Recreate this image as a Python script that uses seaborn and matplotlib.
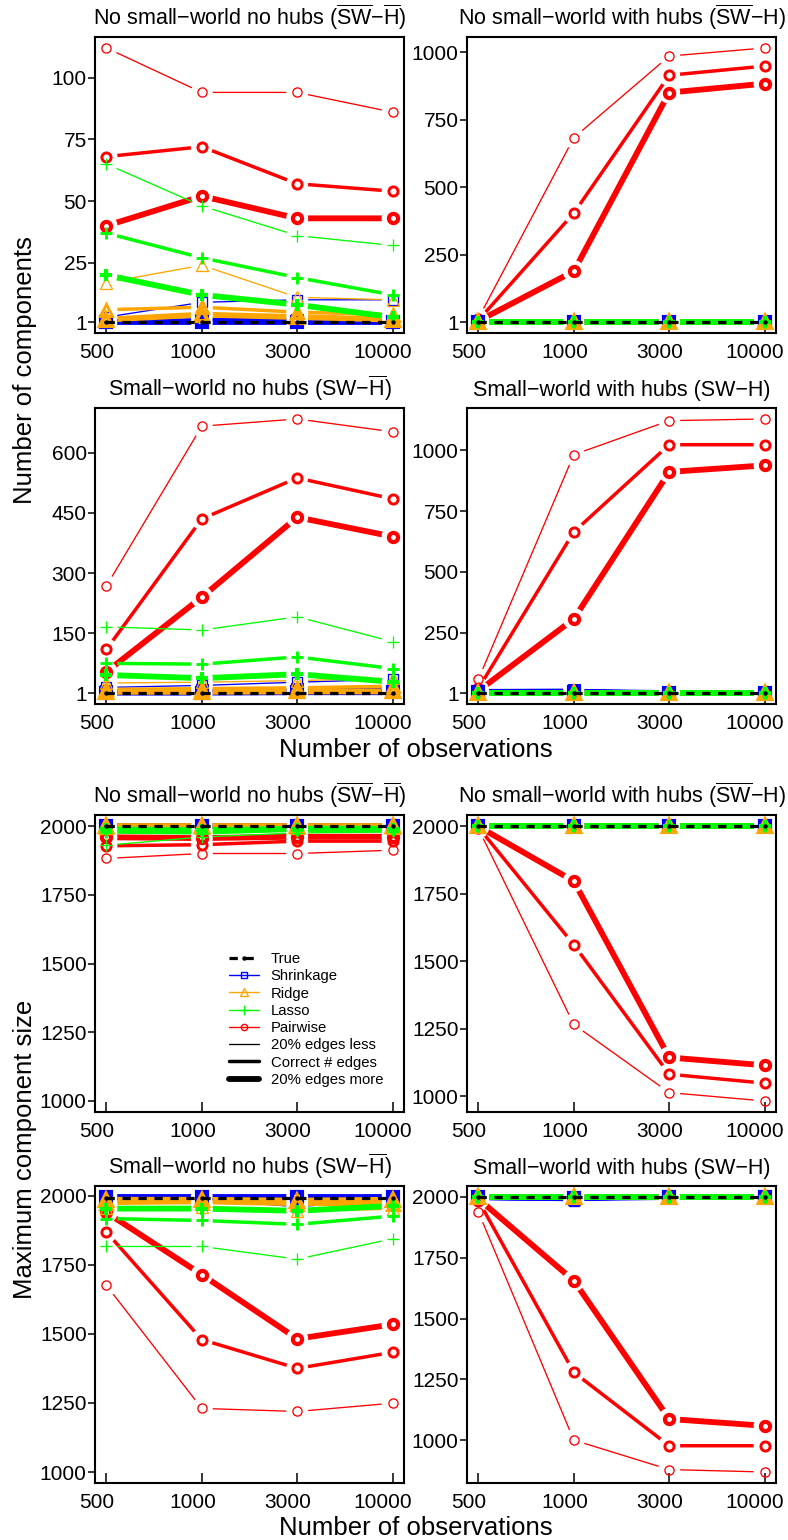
import numpy as np
import matplotlib
matplotlib.use("Agg")
import matplotlib.pyplot as plt
import matplotlib.transforms as mtransforms
from matplotlib.lines import Line2D
from matplotlib.path import Path
import seaborn as sns

sns.set_theme(style="white")
plt.rcParams["font.family"] = ["Liberation Sans", "DejaVu Sans"]
plt.rcParams["mathtext.fontset"] = "custom"
plt.rcParams["mathtext.rm"] = "Liberation Sans"
plt.rcParams["axes.unicode_minus"] = True

# ---------------------------------------------------------------- data
n_obs = ["500", "1000", "3000", "10000"]
edge_levels = ["20% edges less", "Correct # edges", "20% edges more"]
methods = ["Shrinkage", "Ridge", "Lasso", "Pairwise"]

# Number of components: no small-world, no hubs
comp_a_true = [1, 1, 1, 1]
comp_a_shrinkage = [[3, 9, 10, 10], [1, 2, 2, 1], [1, 1, 1, 1]]
comp_a_ridge = [[17, 24, 11, 10], [6, 7, 5, 4], [2, 4, 3, 2]]
comp_a_lasso = [[65, 48, 36, 32], [37, 27, 19, 12], [20, 12, 8, 3]]
comp_a_pairwise = [[112, 94, 94, 86], [68, 72, 57, 54], [40, 52, 43, 43]]

# Number of components: no small-world, with hubs
comp_b_true = [1, 1, 1, 1]
comp_b_shrinkage = [[6, 5, 3, 3], [3, 3, 2, 2], [1, 1, 1, 1]]
comp_b_ridge = [[4, 3, 2, 2], [2, 2, 1, 1], [1, 1, 1, 1]]
comp_b_lasso = [[2, 2, 1, 1], [1, 1, 1, 1], [1, 1, 1, 1]]
comp_b_pairwise = [[15, 683, 985, 1015], [8, 404, 914, 948], [5, 189, 850, 883]]

# Number of components: small-world, no hubs
comp_c_true = [1, 1, 1, 1]
comp_c_shrinkage = [[15, 20, 28, 35], [6, 8, 10, 12], [2, 2, 3, 3]]
comp_c_ridge = [[26, 28, 32, 38], [10, 12, 14, 18], [4, 4, 5, 5]]
comp_c_lasso = [[166, 158, 191, 129], [75, 73, 91, 62], [46, 38, 48, 29]]
comp_c_pairwise = [[268, 666, 684, 652], [110, 435, 537, 485], [54, 240, 439, 391]]

# Number of components: small-world, with hubs
comp_d_true = [1, 1, 1, 1]
comp_d_shrinkage = [[15, 15, 3, 3], [10, 12, 2, 2], [6, 6, 1, 1]]
comp_d_ridge = [[4, 4, 2, 2], [2, 2, 1, 1], [1, 1, 1, 1]]
comp_d_lasso = [[2, 2, 1, 1], [1, 1, 1, 1], [1, 1, 1, 1]]
comp_d_pairwise = [[58, 982, 1122, 1129], [20, 664, 1023, 1023], [10, 306, 911, 938]]

# Maximum component size: no small-world, no hubs
size_a_true = [2000, 2000, 2000, 2000]
size_a_shrinkage = [[1998, 1998, 1998, 1998], [1999, 1999, 1999, 1999], [2000, 2000, 2000, 2000]]
size_a_ridge = [[1993, 1995, 1996, 1996], [1997, 1997, 1998, 1998], [1999, 1999, 1999, 1999]]
size_a_lasso = [[1930, 1960, 1975, 1978], [1978, 1975, 1985, 1985], [1988, 1985, 1990, 1990]]
size_a_pairwise = [[1882, 1900, 1900, 1912], [1928, 1932, 1945, 1945], [1959, 1956, 1961, 1961]]

# Maximum component size: no small-world, with hubs
size_b_true = [2000, 2000, 2000, 2000]
size_b_shrinkage = [[2000, 2000, 2000, 2000], [2000, 2000, 2000, 2000], [2000, 2000, 2000, 2000]]
size_b_ridge = [[2000, 2000, 2000, 2000], [2000, 2000, 2000, 2000], [2000, 2000, 2000, 2000]]
size_b_lasso = [[1999, 2000, 2000, 2000], [2000, 2000, 2000, 2000], [2000, 2000, 2000, 2000]]
size_b_pairwise = [[1990, 1266, 1014, 983], [1995, 1561, 1082, 1049], [1998, 1796, 1144, 1115]]

# Maximum component size: small-world, no hubs
size_c_true = [1990, 1990, 1990, 1990]
size_c_shrinkage = [[1985, 1985, 1960, 1985], [1992, 1992, 1990, 1992], [1995, 1995, 1995, 1995]]
size_c_ridge = [[1955, 1960, 1945, 1950], [1972, 1975, 1968, 1970], [1985, 1985, 1982, 1985]]
size_c_lasso = [[1816, 1816, 1770, 1844], [1917, 1910, 1896, 1926], [1953, 1953, 1945, 1963]]
size_c_pairwise = [[1675, 1230, 1219, 1249], [1868, 1479, 1375, 1433], [1939, 1714, 1482, 1534]]

# Maximum component size: small-world, with hubs
size_d_true = [2000, 2000, 2000, 2000]
size_d_shrinkage = [[1990, 1985, 2000, 2000], [1995, 1990, 2000, 2000], [2000, 1995, 2000, 2000]]
size_d_ridge = [[2000, 2000, 2000, 2000], [2000, 2000, 2000, 2000], [2000, 2000, 2000, 2000]]
size_d_lasso = [[2000, 2000, 2000, 2000], [2000, 2000, 2000, 2000], [2000, 2000, 2000, 2000]]
size_d_pairwise = [[1938, 1000, 879, 869], [1985, 1279, 977, 977], [1992, 1656, 1087, 1059]]

comp_ticks_a = [1, 25, 50, 75, 100]
comp_ticks_b = [1, 250, 500, 750, 1000]
comp_ticks_c = [1, 150, 300, 450, 600]
comp_ticks_d = [1, 250, 500, 750, 1000]
size_ticks = [1000, 1250, 1500, 1750, 2000]

# ---------------------------------------------------------------- styles
W, H = 788, 1540
fig = plt.figure(figsize=(W / 100, H / 100), dpi=100)

colors = {"Shrinkage": "#0000FF", "Ridge": "#FFA500", "Lasso": "#00FF00", "Pairwise": "#FF0000"}
markers = {"Shrinkage": "s", "Ridge": "^", "Lasso": "+", "Pairwise": "o"}
msizes = {"Shrinkage": 7.0, "Ridge": 8.0, "Lasso": 9.0, "Pairwise": 6.6}
line_w = [0.95, 2.5, 4.2]
edge_w = [0.95, 2.1, 3.0]
GAP_PX = 11
draw_order = ["Pairwise", "Shrinkage", "Ridge", "Lasso"]

SWb = r"$\overline{\mathrm{SW}}$"
Hb = r"$\overline{\mathrm{H}}$"
titles = [
    "No small\u2212world no hubs (" + SWb + "\u2212" + Hb + ")",
    "No small\u2212world with hubs (" + SWb + "\u2212H)",
    "Small\u2212world no hubs (SW\u2212" + Hb + ")",
    "Small\u2212world with hubs (SW\u2212H)",
]

panels = [
    (comp_a_true, {"Shrinkage": comp_a_shrinkage, "Ridge": comp_a_ridge, "Lasso": comp_a_lasso, "Pairwise": comp_a_pairwise}, comp_ticks_a, False),
    (comp_b_true, {"Shrinkage": comp_b_shrinkage, "Ridge": comp_b_ridge, "Lasso": comp_b_lasso, "Pairwise": comp_b_pairwise}, comp_ticks_b, False),
    (comp_c_true, {"Shrinkage": comp_c_shrinkage, "Ridge": comp_c_ridge, "Lasso": comp_c_lasso, "Pairwise": comp_c_pairwise}, comp_ticks_c, False),
    (comp_d_true, {"Shrinkage": comp_d_shrinkage, "Ridge": comp_d_ridge, "Lasso": comp_d_lasso, "Pairwise": comp_d_pairwise}, comp_ticks_d, False),
    (size_a_true, {"Shrinkage": size_a_shrinkage, "Ridge": size_a_ridge, "Lasso": size_a_lasso, "Pairwise": size_a_pairwise}, size_ticks, True),
    (size_b_true, {"Shrinkage": size_b_shrinkage, "Ridge": size_b_ridge, "Lasso": size_b_lasso, "Pairwise": size_b_pairwise}, size_ticks, True),
    (size_c_true, {"Shrinkage": size_c_shrinkage, "Ridge": size_c_ridge, "Lasso": size_c_lasso, "Pairwise": size_c_pairwise}, size_ticks, True),
    (size_d_true, {"Shrinkage": size_d_shrinkage, "Ridge": size_d_ridge, "Lasso": size_d_lasso, "Pairwise": size_d_pairwise}, size_ticks, True),
]

col_px = [(95, 404), (467, 776)]
row_px = [(37, 333), (408, 704), (815, 1112), (1186, 1483)]

x_pos = np.arange(1, len(n_obs) + 1)


def add_axes_px(left, top, right, bottom):
    return fig.add_axes([left / W, 1 - bottom / H, (right - left) / W, (bottom - top) / H])


def gap_clip_path(ax, xs, ys, radius):
    """Axes-sized region with round holes at each point, so lines break around markers."""
    pts = ax.transData.transform(np.column_stack([xs, ys]))
    bb = ax.bbox
    x0, y0, x1, y1 = bb.x0 - 50, bb.y0 - 50, bb.x1 + 50, bb.y1 + 50
    verts = [(x0, y0), (x1, y0), (x1, y1), (x0, y1), (x0, y0)]
    codes = [Path.MOVETO, Path.LINETO, Path.LINETO, Path.LINETO, Path.CLOSEPOLY]
    theta = np.linspace(0, -2 * np.pi, 41)[:-1]
    for cx, cy in pts:
        ring = np.column_stack([cx + radius * np.cos(theta), cy + radius * np.sin(theta)])
        verts.extend(map(tuple, ring))
        verts.append(tuple(ring[0]))
        codes.extend([Path.MOVETO] + [Path.LINETO] * (len(ring) - 1) + [Path.CLOSEPOLY])
    return Path(verts, codes)


label_shift = mtransforms.ScaledTranslation(-9.5 / 100, 0, fig.dpi_scale_trans)

axes = []
for i, (true_vals, series, yticks, is_size) in enumerate(panels):
    r, c = divmod(i, 2)
    ax = add_axes_px(col_px[c][0], row_px[r][0], col_px[c][1], row_px[r][1])
    axes.append(ax)

    all_vals = np.concatenate([np.ravel(v) for v in series.values()] + [np.asarray(true_vals)])
    lo, hi = all_vals.min(), all_vals.max()
    if is_size:
        lo = min(lo, 1000)
    pad = 0.04 * (hi - lo)
    ax.set_xlim(0.88, 4.12)
    ax.set_ylim(lo - pad, hi + pad)

    for m in draw_order:
        for k in range(3):
            vals = series[m][k]
            sns.lineplot(x=x_pos, y=vals, ax=ax, color=colors[m], linewidth=line_w[k],
                         errorbar=None, legend=False, sort=False)
            ln = ax.lines[-1]
            ln.set_clip_path(gap_clip_path(ax, x_pos, vals, GAP_PX), mtransforms.IdentityTransform())
            ax.plot(x_pos, vals, linestyle="none", marker=markers[m], markersize=msizes[m],
                    markerfacecolor="none", markeredgecolor=colors[m], markeredgewidth=edge_w[k])

    sns.lineplot(x=x_pos, y=true_vals, ax=ax, color="black", linewidth=2.3,
                 linestyle=(0, (2.6, 2.4)), errorbar=None, legend=False, sort=False)
    ax.plot(x_pos, true_vals, linestyle="none", marker="o", markersize=2.2, color="black")

    ax.set_xticks(x_pos)
    ax.set_xticklabels(n_obs)
    ax.set_yticks(yticks)
    ax.set_yticklabels([str(t) for t in yticks])
    ax.set_xlabel("")
    ax.set_ylabel("")
    ax.tick_params(axis="x", direction="in", length=7, width=1.1, pad=7, labelsize=15,
                   colors="black", bottom=True)
    ax.tick_params(axis="y", direction="out", length=5, width=1.1, pad=1, labelsize=15,
                   colors="black", left=True)
    for lab in ax.get_xticklabels():
        lab.set_transform(lab.get_transform() + label_shift)
    for sp in ax.spines.values():
        sp.set_color("black")
        sp.set_linewidth(1.5)
        sp.set_visible(True)
    ax.grid(False)
    ax.set_title(titles[i % 4], fontsize=15.5, pad=8.6, color="black")

# ---------------------------------------------------------------- legend
handles = [
    Line2D([], [], color="black", lw=2.3, linestyle=(0, (2.6, 2.4)), marker="o", markersize=2.2),
    Line2D([], [], color=colors["Shrinkage"], lw=1, marker="s", markersize=5, markerfacecolor="none", markeredgewidth=1),
    Line2D([], [], color=colors["Ridge"], lw=1, marker="^", markersize=6, markerfacecolor="none", markeredgewidth=1),
    Line2D([], [], color=colors["Lasso"], lw=1, marker="+", markersize=7, markeredgewidth=1),
    Line2D([], [], color=colors["Pairwise"], lw=1, marker="o", markersize=4.5, markerfacecolor="none", markeredgewidth=1),
    Line2D([], [], color="black", lw=line_w[0]),
    Line2D([], [], color="black", lw=line_w[1]),
    Line2D([], [], color="black", lw=line_w[2]),
]
labels = ["True"] + methods + edge_levels
axes[4].legend(handles, labels, loc="upper left", bbox_to_anchor=(229 / W, 1 - 952 / H),
               bbox_transform=fig.transFigure, frameon=False, fontsize=10.7,
               handlelength=2.0, handletextpad=0.8, labelspacing=0.22,
               borderpad=0, borderaxespad=0, numpoints=1, labelcolor="black")

# ---------------------------------------------------------------- axis titles
fig.text(25 / W, 1 - 370.5 / H, "Number of components", rotation=90,
         ha="center", va="center", fontsize=18.5, color="black")
fig.text(25 / W, 1 - 1149 / H, "Maximum component size", rotation=90,
         ha="center", va="center", fontsize=18.5, color="black")
fig.text(416 / W, 1 - 757 / H, "Number of observations", ha="center", va="baseline",
         fontsize=18.5, color="black")
fig.text(416 / W, 1 - 1535 / H, "Number of observations", ha="center", va="baseline",
         fontsize=18.5, color="black")

fig.savefig("out.png", dpi=100, facecolor="white")
